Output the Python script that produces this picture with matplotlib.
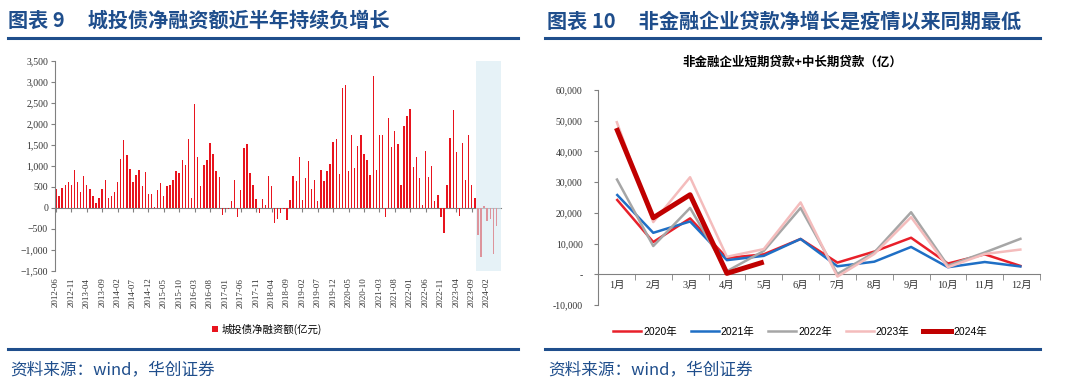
import matplotlib
matplotlib.use('Agg')
import matplotlib.pyplot as plt
import matplotlib.ticker as mticker
from matplotlib.patches import Patch
from matplotlib.lines import Line2D
import numpy as np
import pandas as pd

plt.rcParams['font.family'] = ['Liberation Serif', 'Noto Sans CJK SC']

BLUE = '#1F4E8C'
GREY = '#808080'
CJK = ['Noto Sans CJK SC']

# ---- 图表9: 城投债净融资额 (亿元), monthly 2012-06 .. 2024-05
months = pd.period_range('2012-06', '2024-05', freq='M').strftime('%Y-%m').tolist()
net_fin = [
    440, 270, 465, 535, 605, 550, 900,                                   # 2012
    605, 370, 750, 535, 450, 285, 120, 235, 450, 655, 235, 275,          # 2013
    370, 605, 1160, 1620, 1265, 915, 620, 780, 900, 515, 845, 315,       # 2014
    315, 10, 420, 585, 275, 510, 535, 655, 865, 820, 1125, 1015,         # 2015
    1625, 235, 2480, 1215, 505, 1015, 1140, 1530, 1285, 880, 735, -175,  # 2016
    -40, -30, 165, 655, -220, 420, 1425, 1505, 820, 535, 205, -120,      # 2017
    205, 70, 765, 505, -370, -275, -120, -40, -300, 195, 765, 630,       # 2018
    1215, 175, 715, 1110, 450, 660, 160, 900, 630, 865, 1050, 1570,      # 2019
    1625, 795, 2845, 2910, 880, 1725, 945, 1480, 1725, 1290, 1140, 780,  # 2020
    3145, 900, 1740, 1740, -230, 2135, 1435, 1835, 1505, 550, 1955, 2190,  # 2021
    2355, 960, 1205, 715, 70, 1355, 725, 995, 160, 300, -230, -600,      # 2022
    535, 1655, 2315, 1325, -205, 1545, 655, 1725, 535, 230, -660, -1175,  # 2023
    30, -305, -260, -1110, -440,                                         # 2024
]
shade_start = '2023-11'

# ---- 图表10: 非金融企业短期贷款+中长期贷款 (亿)
month_cats = [f'{i}月' for i in range(1, 13)]
loans_2020 = [24500, 10500, 18200, 5300, 6500, 11500, 3800, 7400, 11900, 3500, 6500, 2600]
loans_2021 = [26100, 13500, 17200, 4600, 6000, 11500, 2600, 4100, 8900, 2300, 4000, 2500]
loans_2022 = [31200, 9200, 21600, 1000, 7600, 21600, 100, 7100, 20200, 2800, 7100, 11700]
loans_2023 = [49900, 17000, 31600, 5700, 8200, 23400, -750, 6600, 18600, 2300, 6600, 8100]
loans_2024 = [47600, 18400, 25900, 300, 4000]
series = [('2020年', loans_2020, '#E8202A', 1.8),
          ('2021年', loans_2021, '#1F6FC5', 1.8),
          ('2022年', loans_2022, '#A6A6A6', 1.8),
          ('2023年', loans_2023, '#F4BCBC', 1.8),
          ('2024年', loans_2024, '#C00000', 3.6)]

W, H = 1080, 383
fig = plt.figure(figsize=(W / 100, H / 100), dpi=100)


def fx(px):
    return px / W


def fy(py):
    return 1 - py / H


# ---------------- left chart
ax1 = fig.add_axes([fx(55), fy(270.7), fx(446), 210 / H])
x = np.arange(len(months))
ax1.bar(x, net_fin, width=0.45, color='#E8141E', zorder=2)
i0 = months.index(shade_start)
ax1.axvspan(i0 - 0.5, len(months) + 0.5, color='#D6EAF2', alpha=0.6, lw=0, zorder=3)
ax1.set_xlim(-0.32, len(months) + 0.5)
ax1.set_ylim(-1500, 3500)
ax1.set_yticks(np.arange(-1500, 3501, 500))
ax1.yaxis.set_major_formatter(mticker.StrMethodFormatter('{x:,.0f}'))
for s in ['top', 'right', 'bottom']:
    ax1.spines[s].set_visible(False)
ax1.spines['left'].set_color(GREY)
ax1.tick_params(axis='y', direction='out', length=3, color=GREY, labelsize=7, pad=2,
                labelcolor='#333333')
tick_idx = x[::5]
ax1.set_xticks(tick_idx)
ax1.set_xticklabels([months[i] for i in tick_idx], rotation=90, fontsize=6.5, color='#333333')
ax1.tick_params(axis='x', length=0, pad=5)
sec1 = ax1.secondary_xaxis(1500 / 5000)
sec1.set_xticks(tick_idx)
sec1.set_xticklabels([])
sec1.tick_params(length=3, color=GREY)
sec1.spines['bottom'].set_color(GREY)

fig.legend(handles=[Patch(facecolor='#E8141E')], labels=['城投债净融资额(亿元)'],
           loc='center', bbox_to_anchor=(fx(267), fy(329)), frameon=False,
           handlelength=0.6, handleheight=0.6, handletextpad=0.3,
           prop={'family': CJK, 'size': 7.5})

# ---------------- right chart
ax2 = fig.add_axes([fx(598), fy(305), fx(442), 215 / H])
xc = np.arange(1, 13)
for name, vals, col, lw in series:
    ax2.plot(xc[:len(vals)], vals, color=col, lw=lw, label=name, solid_capstyle='butt')
ax2.set_xlim(0.5, 12.5)
ax2.set_ylim(-10000, 60000)
ax2.set_yticks(np.arange(-10000, 60001, 10000))
ax2.yaxis.set_major_formatter(mticker.FuncFormatter(lambda v, p: '-' if v == 0 else f'{v:,.0f}'))
for s in ['top', 'right', 'bottom']:
    ax2.spines[s].set_visible(False)
ax2.spines['left'].set_color(GREY)
ax2.tick_params(axis='y', direction='out', length=3, color=GREY, labelsize=7, pad=8,
                labelcolor='#333333')
ax2.set_xticks([])
sec2 = ax2.secondary_xaxis(10000 / 70000)
sec2.set_xticks(xc)
sec2.set_xticklabels(month_cats, fontsize=7.5, color='#333333')
sec2.set_xticks(np.arange(0.5, 13, 1), minor=True)
sec2.tick_params(which='major', length=0, pad=5)
sec2.tick_params(which='minor', length=4, color=GREY)
sec2.spines['bottom'].set_color(GREY)

fig.text(fx(792), fy(62), '非金融企业短期贷款+中长期贷款（亿）', ha='center', va='center',
         fontsize=9, fontweight='bold', family=CJK)

handles = [Line2D([], [], color=c, lw=lw) for _, _, c, lw in series]
fig.legend(handles=handles, labels=[s[0] for s in series], ncol=5, loc='center',
           bbox_to_anchor=(fx(800), fy(331.7)), frameon=False,
           handlelength=2.7, handletextpad=0.2, columnspacing=1.3,
           prop={'family': ['Liberation Sans', 'Noto Sans CJK SC'], 'size': 7.5})

# ---------------- titles, rules and sources
fig.text(fx(8), fy(20), '图表 9' + ' ' * 5 + '城投债净融资额近半年持续负增长', color=BLUE,
         fontsize=14.5, fontweight='bold', va='center', family=CJK)
fig.text(fx(547), fy(21), '图表 10' + ' ' * 5 + '非金融企业贷款净增长是疫情以来同期最低', color=BLUE,
         fontsize=14.5, fontweight='bold', va='center', family=CJK)
for x0, x1 in [(8, 518), (545, 1040)]:
    fig.add_artist(Line2D([fx(x0), fx(x1)], [fy(37.5)] * 2, color=BLUE, lw=2.2))
    fig.add_artist(Line2D([fx(x0), fx(x1)], [fy(349.3)] * 2, color=BLUE, lw=2.2))
fig.text(fx(10), fy(370), '资料来源：wind，华创证券', color=BLUE, fontsize=12, va='center', family=CJK)
fig.text(fx(548), fy(370), '资料来源：wind，华创证券', color=BLUE, fontsize=12, va='center', family=CJK)

fig.savefig('out.png', dpi=100)
